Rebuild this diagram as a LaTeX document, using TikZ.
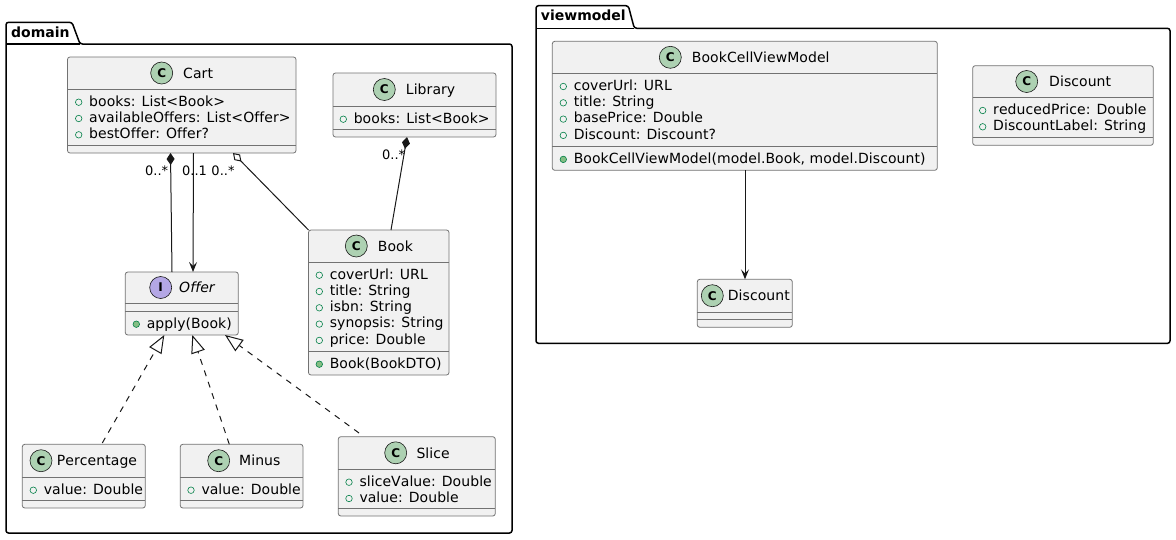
\documentclass[tikz,border=0pt]{standalone}
\usepackage{fontspec}
\setmainfont{DejaVu Sans}[Kerning=Off, Ligatures=NoCommon]
\newfontfamily\memfont{DejaVu Sans}[Kerning=Off, Ligatures=NoCommon, LetterSpace=0.5]
\usetikzlibrary{arrows.meta,fit,calc}
\definecolor{clsfill}{HTML}{F1F1F1}
\definecolor{ink}{HTML}{181818}
\definecolor{boxline}{HTML}{727272}
\definecolor{spotC}{HTML}{ADD1B2}
\definecolor{spotI}{HTML}{B4A7E5}
\definecolor{visgreen}{HTML}{038048}
\definecolor{visfill}{HTML}{84BE84}

\newcommand{\umlcls}[7]{%
  \node[clsbox, fit={(#2,#3) (#4,#5)}] (#1) {};
  \draw[sepline] (#2,#6) -- (#4,#6);
  \draw[sepline] (#2,#7) -- (#4,#7);}
\newcommand{\clshead}[7]{%
  \node[spot, fill=#5] (#1s) at (#2,#3) {\fontsize{12}{12}\selectfont\bfseries #4};
  \node[nametext, anchor=base west] (#1n) at (#6,#3+5.2) {#7};}
\newcommand{\fld}[4]{%
  \node[fldicon] (#1i) at (#2,#3-3.8) {};
  \node[memtext, anchor=base west] (#1) at (#2+10.3,#3) {#4};}
\newcommand{\mth}[4]{%
  \node[mthicon] (#1i) at (#2,#3-3.8) {};
  \node[memtext, anchor=base west] (#1) at (#2+10.3,#3) {#4};}

\tikzset{
  clsbox/.style={draw=boxline, line width=0.8pt, fill=clsfill, rounded corners=2.5pt, inner sep=0pt, outer sep=0pt},
  sepline/.style={draw=boxline, line width=0.8pt},
  spot/.style={circle, draw=ink, line width=0.6pt, minimum size=22pt, inner sep=0pt},
  nametext/.style={inner sep=0pt, font=\memfont\fontsize{14}{16}\selectfont},
  memtext/.style={inner sep=0pt, font=\memfont\fontsize{14}{16}\selectfont},
  fldicon/.style={circle, draw=visgreen, line width=0.6pt, minimum size=6.5pt, inner sep=0pt},
  mthicon/.style={circle, draw=visgreen, fill=visfill, line width=0.6pt, minimum size=6.5pt, inner sep=0pt},
  inh/.style={draw=ink, line width=1pt, dash pattern=on 6pt off 6pt, -{Triangle[length=18pt,width=14pt,fill=white,line width=1pt]}},
  assoc/.style={draw=ink, line width=1pt, -{Stealth[length=10pt,width=8pt,inset=4pt]}},
  comp/.style={draw=ink, line width=1pt, {Diamond[length=12pt,width=8pt]}-},
  aggr/.style={draw=ink, line width=1pt, {Diamond[length=12pt,width=8pt,fill=white]}-},
  mult/.style={inner sep=0pt, font=\fontsize{13}{13}\selectfont},
  pkg/.style={draw=black, line width=1.5pt},
  pkglabel/.style={inner sep=0pt, font=\fontsize{14}{16}\selectfont\bfseries, anchor=base west}
}

\begin{document}
\begin{tikzpicture}[x=1pt, y=-1pt]
\useasboundingbox (0,0) rectangle (1176,539);

% ---------- packages ----------
\draw[pkg, rounded corners=2.5pt] (80,44) -- (72,22.3) -- (6,22.3) -- (6,533) -- (512,533) -- (512,44) -- cycle;
\draw[pkg] (6,44) -- (80,44);
\node[pkglabel] (domainlbl) at (11,37.3) {domain};

\draw[pkg, rounded corners=2.5pt] (634.3,28.3) -- (628.3,5.7) -- (536,5.7) -- (536,343.3) -- (1170,343.3) -- (1170,28.3) -- cycle;
\draw[pkg] (536,28.3) -- (634.3,28.3);
\node[pkglabel] (viewmodellbl) at (540.7,20.7) {viewmodel};

% ---------- domain classes ----------
\umlcls{cart}{67.5}{57}{296}{153}{89}{145.5}
\clshead{cart}{161.7}{73}{C}{spotC}{183}{Cart}
\fld{cartf1}{78.7}{106}{books: List<Book>}
\fld{cartf2}{78.7}{122.3}{availableOffers: List<Offer>}
\fld{cartf3}{78.7}{138.6}{bestOffer: Offer?}

\umlcls{library}{333}{73}{496}{137}{106}{129}
\clshead{library}{384.3}{89.5}{C}{spotC}{405.7}{Library}
\fld{libf1}{343.3}{123}{books: List<Book>}

\umlcls{book}{308.5}{230}{449}{375}{262}{351}
\clshead{book}{356.3}{246}{C}{spotC}{377.7}{Book}
\fld{bookf1}{319.3}{279}{coverUrl: URL}
\fld{bookf2}{319.3}{295.3}{title: String}
\fld{bookf3}{319.3}{311.6}{isbn: String}
\fld{bookf4}{319.3}{327.9}{synopsis: String}
\fld{bookf5}{319.3}{344.2}{price: Double}
\mth{bookm1}{319.3}{368}{Book(BookDTO)}

\umlcls{offer}{125.3}{272}{238.3}{335}{303}{311}
\clshead{offer}{160.7}{287.5}{I}{spotI}{179}{\itshape Offer}
\mth{offerm1}{136.3}{328}{apply(Book)}

\umlcls{perc}{22.3}{444.3}{145.3}{508}{477}{500.5}
\clshead{perc}{41}{460.7}{C}{spotC}{56.7}{Percentage}
\fld{percf1}{33.3}{494}{value: Double}

\umlcls{minus}{180.3}{444.3}{303}{508}{477}{500.5}
\clshead{minus}{218.7}{460.7}{C}{spotC}{239}{Minus}
\fld{minusf1}{191}{494}{value: Double}

\umlcls{slice}{338.3}{436.7}{495.3}{516}{469}{508.5}
\clshead{slice}{395.7}{452.8}{C}{spotC}{416.3}{Slice}
\fld{slicef1}{349}{486}{sliceValue: Double}
\fld{slicef2}{349}{502.3}{value: Double}

% ---------- viewmodel classes ----------
\umlcls{bcvm}{552.3}{41.3}{937.3}{170.3}{73.3}{146.2}
\clshead{bcvm}{670.3}{57.3}{C}{spotC}{691.7}{BookCellViewModel}
\fld{bcvmf1}{563.3}{90.3}{coverUrl: URL}
\fld{bcvmf2}{563.3}{106.6}{title: String}
\fld{bcvmf3}{563.3}{122.9}{basePrice: Double}
\fld{bcvmf4}{563.3}{139.2}{Discount: Discount?}
\mth{bcvmm1}{563.3}{163.2}{BookCellViewModel(model.Book, model.Discount)}

\umlcls{discr}{972.7}{65.7}{1153.3}{145.3}{97.3}{137.5}
\clshead{discr}{1026.7}{81.5}{C}{spotC}{1049}{Discount}
\fld{discrf1}{982.7}{114.3}{reducedPrice: Double}
\fld{discrf2}{982.7}{130.6}{DiscountLabel: String}

\umlcls{discs}{697.3}{279.3}{792.3}{327.3}{312}{319.5}
\clshead{discs}{712.3}{295.7}{C}{spotC}{727.7}{Discount}

% ---------- connectors ----------
\draw[comp] (170.5,0 |- cart.south) -- (172,0 |- offer.north);
\node[mult] (m1) at (156.7,170.5) {0..*};
\draw[assoc] (193.5,0 |- cart.south) -- (193,0 |- offer.north);
\node[mult] (m2) at (194.5,170.5) {0..1};
\draw[aggr] (233,0 |- cart.south) -- (book.north west);
\node[mult] (m3) at (223,170.5) {0..*};
\draw[comp] (407,0 |- library.south) -- (391,0 |- book.north);
\node[mult] (m4) at (393.7,154.5) {0..*};

\draw[inh] (102.3,443) -- (164.3,0 |- offer.south);
\draw[inh] (229.3,0 |- minus.north) -- (192.3,0 |- offer.south);
\draw[inh] (359,433) -- (225,0 |- offer.south);

\draw[assoc] (745,0 |- bcvm.south) -- (745,0 |- discs.north);
\end{tikzpicture}
\end{document}
